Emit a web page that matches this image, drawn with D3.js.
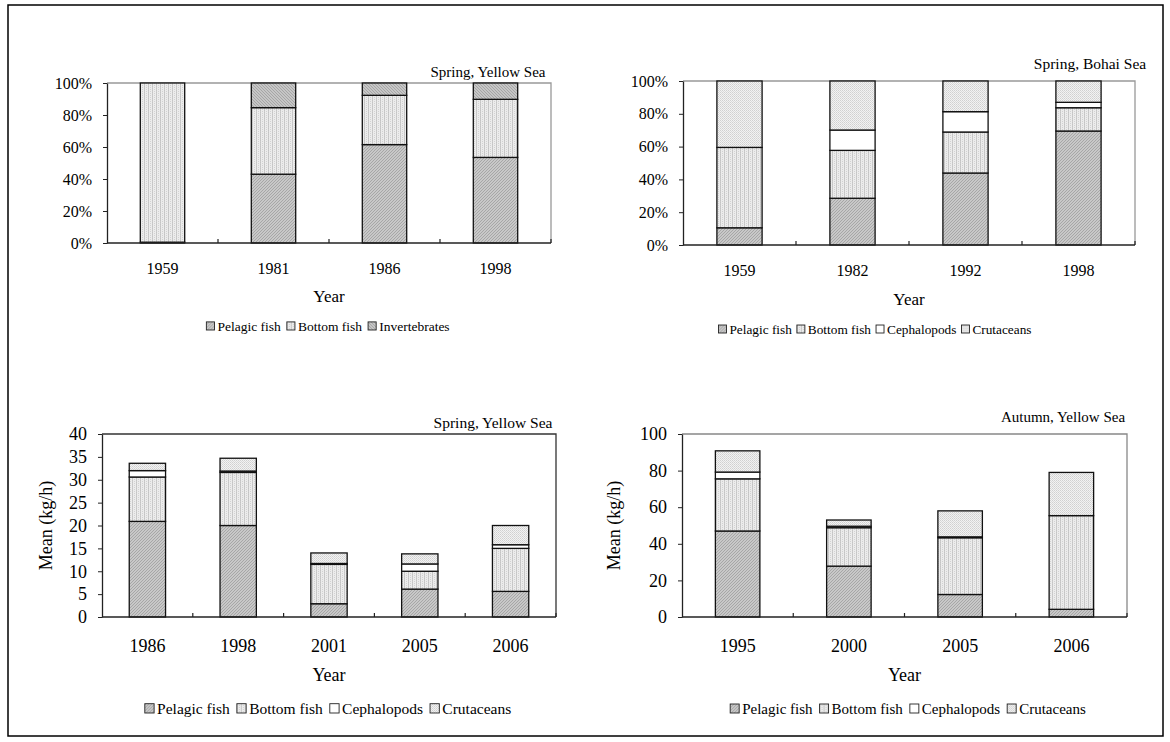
<!DOCTYPE html>
<meta charset="utf-8">
<style>
body { margin: 0; background: #fff; }
text { font-family: "Liberation Serif", "Times New Roman", serif; fill: #000; }
</style>
<svg width="1170" height="742"></svg>
<script src="https://cdn.jsdelivr.net/npm/d3@7"></script>
<script>
// ---- data ----
// Spring, Yellow Sea (percent composition)
var ysYears = ["1959", "1981", "1986", "1998"];
var ysPelagic = [0.5, 43.0, 61.5, 53.5];
var ysBottom = [99.5, 41.6, 30.8, 36.3];
var ysInvert = [0, 15.4, 7.7, 10.2];

// Spring, Bohai Sea (percent composition)
var bhYears = ["1959", "1982", "1992", "1998"];
var bhPelagic = [10.5, 28.5, 43.9, 69.5];
var bhBottom = [49.0, 29.2, 25.0, 14.2];
var bhCeph = [0, 12.4, 12.4, 3.3];
var bhCrust = [40.5, 29.9, 18.7, 13.0];

// Spring, Yellow Sea (mean kg/h)
var spYears = ["1986", "1998", "2001", "2005", "2006"];
var spPelagic = [20.9, 20.0, 2.9, 6.1, 5.6];
var spBottom = [9.7, 11.6, 8.6, 3.9, 9.4];
var spCeph = [1.4, 0.3, 0.2, 1.6, 0.8];
var spCrust = [1.6, 2.8, 2.3, 2.2, 4.2];

// Autumn, Yellow Sea (mean kg/h)
var auYears = ["1995", "2000", "2005", "2006"];
var auPelagic = [47.0, 27.8, 12.3, 4.2];
var auBottom = [28.5, 21.0, 31.0, 51.2];
var auCeph = [3.7, 0.8, 0.5, 0];
var auCrust = [11.6, 3.4, 14.2, 23.6];

var FONT = "'Liberation Serif', 'Times New Roman', serif";
var svg = d3.select("svg");

// fill patterns, roughly like the old Excel ones
var defs = svg.append("defs");
function pattern(id, w, h, bg, draw) {
  var p = defs.append("pattern").attr("id", id)
      .attr("patternUnits", "userSpaceOnUse").attr("width", w).attr("height", h);
  p.append("rect").attr("width", w).attr("height", h).attr("fill", bg);
  draw(p);
}
function dot(p, x, y, c) {
  p.append("rect").attr("x", x).attr("y", y).attr("width", 1).attr("height", 1).attr("fill", c);
}
pattern("pelagic", 3, 3, "#c8c8c8", function(p) {
  dot(p, 0, 2, "#a6a6a6"); dot(p, 1, 1, "#a6a6a6"); dot(p, 2, 0, "#a6a6a6");
});
pattern("invert", 3, 3, "#c6c6c6", function(p) {
  dot(p, 0, 0, "#a6a6a6"); dot(p, 1, 1, "#a6a6a6"); dot(p, 2, 2, "#a6a6a6");
});
pattern("bottom", 4, 2, "#ececec", function(p) {
  dot(p, 0, 0, "#c4c4c4"); dot(p, 0, 1, "#cbcbcb"); dot(p, 2, 1, "#d2d2d2");
});
pattern("crust", 2, 2, "#f2f2f2", function(p) {
  dot(p, 0, 0, "#d0d0d0"); dot(p, 1, 1, "#dadada");
});
pattern("white", 2, 2, "#fff", function() {});

// outer frame
svg.append("rect").attr("x", 8).attr("y", 5).attr("width", 1155).attr("height", 731)
    .attr("fill", "none").attr("stroke", "#000").attr("stroke-width", 1.5);

function panel(cfg) {
  var rows = cfg.cats.map(function(c, i) {
    var r = {cat: c};
    cfg.series.forEach(function(s) { r[s.key] = s.values[i]; });
    return r;
  });
  var stacked = d3.stack().keys(cfg.series.map(function(s) { return s.key; }))(rows);

  var x = d3.scaleBand().domain(cfg.cats).range([cfg.x0, cfg.x1])
      .paddingInner(0.6).paddingOuter(0.3);
  var y = d3.scaleLinear().domain([0, cfg.yMax]).range([cfg.y1, cfg.y0]);
  var g = svg.append("g");

  // plot area frame (top and right)
  g.append("path")
      .attr("d", "M" + cfg.x0 + "," + cfg.y0 + "H" + cfg.x1 + "V" + cfg.y1)
      .attr("fill", "none").attr("stroke", cfg.frame).attr("stroke-width", 1.3);

  // bars
  g.selectAll("g.layer").data(stacked).enter().append("g")
      .attr("class", "layer")
      .attr("fill", function(d, i) { return "url(#" + cfg.series[i].fill + ")"; })
    .selectAll("rect").data(function(d) { return d; }).enter().append("rect")
      .attr("x", function(d) { return x(d.data.cat); })
      .attr("y", function(d) { return y(d[1]); })
      .attr("width", x.bandwidth())
      .attr("height", function(d) { return y(d[0]) - y(d[1]); })
      .attr("stroke", "#111").attr("stroke-width", 1.3);

  // y axis
  var ya = g.append("g").attr("transform", "translate(" + cfg.x0 + ",0)")
      .call(d3.axisLeft(y).tickValues(cfg.yTicks).tickSize(4).tickPadding(11)
        .tickFormat(cfg.yFormat).tickSizeOuter(0));
  ya.select(".domain").attr("stroke", "#222").attr("stroke-width", 1.3);
  ya.selectAll("line").attr("stroke", "#222");
  ya.selectAll("text").style("font-family", FONT).style("font-size", cfg.fs + "px");

  // x axis: ticks sit between categories, pointing up
  var step = x.step();
  g.append("line").attr("x1", cfg.x0).attr("x2", cfg.x1).attr("y1", cfg.y1).attr("y2", cfg.y1)
      .attr("stroke", "#222").attr("stroke-width", 1.5);
  g.selectAll("line.xt").data(d3.range(1, cfg.cats.length + 1)).enter().append("line")
      .attr("class", "xt")
      .attr("x1", function(i) { return cfg.x0 + i * step; })
      .attr("x2", function(i) { return cfg.x0 + i * step; })
      .attr("y1", cfg.y1).attr("y2", cfg.y1 - 4)
      .attr("stroke", "#222").attr("stroke-width", 1.2);
  g.selectAll("text.xl").data(cfg.cats).enter().append("text")
      .attr("class", "xl")
      .attr("x", function(d) { return x(d) + x.bandwidth() / 2; })
      .attr("y", cfg.xlY)
      .attr("text-anchor", "middle").style("font-family", FONT).style("font-size", cfg.fs + "px")
      .text(function(d) { return d; });

  g.append("text").attr("x", (cfg.x0 + cfg.x1) / 2).attr("y", cfg.yearY)
      .attr("text-anchor", "middle").style("font-family", FONT)
      .style("font-size", cfg.yearFs + "px").text("Year");

  if (cfg.yLabel) {
    g.append("text")
        .attr("transform", "translate(" + cfg.yLabelX + "," + (cfg.y0 + cfg.y1) / 2 + ") rotate(-90)")
        .attr("text-anchor", "middle").style("font-family", FONT)
        .style("font-size", cfg.yearFs + "px").text(cfg.yLabel);
  }

  g.append("text").attr("x", cfg.titleX).attr("y", cfg.titleY)
      .attr("text-anchor", "middle").style("font-family", FONT)
      .style("font-size", cfg.titleFs + "px").text(cfg.title);

  // legend
  var lg = g.append("g");
  var lx = 0, sw = cfg.legFs * 0.6;
  cfg.series.forEach(function(s) {
    var it = lg.append("g").attr("transform", "translate(" + lx + ",0)");
    it.append("rect").attr("x", 0).attr("y", -sw - 1).attr("width", sw)
        .attr("height", sw).attr("fill", "url(#" + s.fill + ")")
        .attr("stroke", "#222").attr("stroke-width", 0.9);
    var t = it.append("text").attr("x", sw + 3).attr("y", 0)
        .style("font-family", FONT).style("font-size", cfg.legFs + "px").text(s.label);
    lx += sw + 3 + t.node().getComputedTextLength() + cfg.legGap;
  });
  lx -= cfg.legGap;
  lg.attr("transform", "translate(" + (cfg.legCx - lx / 2) + "," + cfg.legY + ")");
}

var pct = function(d) { return d + "%"; };

panel({
  cats: ysYears,
  series: [
    {key: "p", label: "Pelagic fish", values: ysPelagic, fill: "pelagic"},
    {key: "b", label: "Bottom fish", values: ysBottom, fill: "bottom"},
    {key: "i", label: "Invertebrates", values: ysInvert, fill: "invert"}
  ],
  x0: 107, x1: 551, y0: 83, y1: 243, yMax: 100, yTicks: [0, 20, 40, 60, 80, 100], yFormat: pct,
  frame: "#999", fs: 16, yearFs: 17, xlY: 274, yearY: 302,
  title: "Spring, Yellow Sea", titleX: 488, titleY: 77, titleFs: 15,
  legFs: 13.5, legGap: 6, legCx: 328, legY: 331
});

panel({
  cats: bhYears,
  series: [
    {key: "p", label: "Pelagic fish", values: bhPelagic, fill: "pelagic"},
    {key: "b", label: "Bottom fish", values: bhBottom, fill: "bottom"},
    {key: "c", label: "Cephalopods", values: bhCeph, fill: "white"},
    {key: "r", label: "Crutaceans", values: bhCrust, fill: "crust"}
  ],
  x0: 683, x1: 1135, y0: 81, y1: 245, yMax: 100, yTicks: [0, 20, 40, 60, 80, 100], yFormat: pct,
  frame: "#999", fs: 16, yearFs: 17, xlY: 276, yearY: 305,
  title: "Spring, Bohai Sea", titleX: 1090, titleY: 69, titleFs: 15.5,
  legFs: 13.3, legGap: 5, legCx: 875, legY: 334
});

panel({
  cats: spYears,
  series: [
    {key: "p", label: "Pelagic fish", values: spPelagic, fill: "pelagic"},
    {key: "b", label: "Bottom fish", values: spBottom, fill: "bottom"},
    {key: "c", label: "Cephalopods", values: spCeph, fill: "white"},
    {key: "r", label: "Crutaceans", values: spCrust, fill: "crust"}
  ],
  x0: 102, x1: 556, y0: 434, y1: 617, yMax: 40, yTicks: d3.range(0, 41, 5), yFormat: d3.format("d"),
  frame: "#333", fs: 18, yearFs: 18, xlY: 652, yearY: 681,
  yLabel: "Mean (kg/h)", yLabelX: 52,
  title: "Spring, Yellow Sea", titleX: 493, titleY: 428, titleFs: 15.5,
  legFs: 15.5, legGap: 7, legCx: 328, legY: 714
});

panel({
  cats: auYears,
  series: [
    {key: "p", label: "Pelagic fish", values: auPelagic, fill: "pelagic"},
    {key: "b", label: "Bottom fish", values: auBottom, fill: "bottom"},
    {key: "c", label: "Cephalopods", values: auCeph, fill: "white"},
    {key: "r", label: "Crutaceans", values: auCrust, fill: "crust"}
  ],
  x0: 682, x1: 1127, y0: 434, y1: 617, yMax: 100, yTicks: d3.range(0, 101, 20), yFormat: d3.format("d"),
  frame: "#888", fs: 18, yearFs: 18, xlY: 652, yearY: 681,
  yLabel: "Mean (kg/h)", yLabelX: 620,
  title: "Autumn, Yellow Sea", titleX: 1063, titleY: 422, titleFs: 15,
  legFs: 15, legGap: 7, legCx: 908, legY: 714
});
</script>
